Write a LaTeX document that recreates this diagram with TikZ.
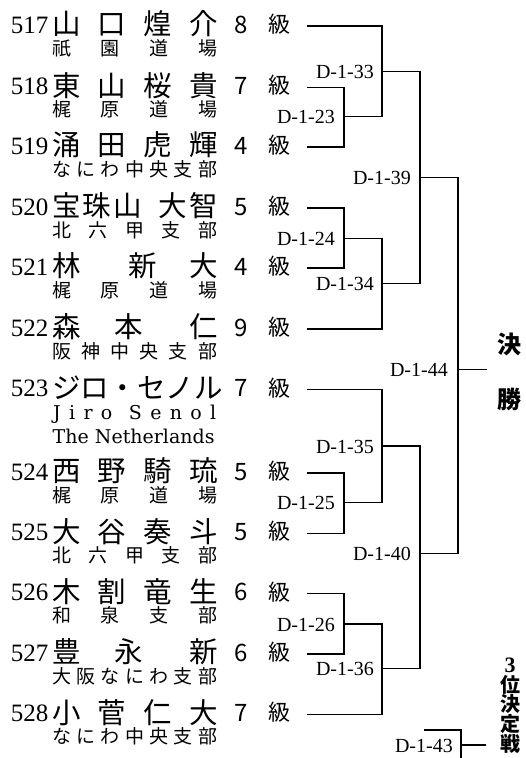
\documentclass[tikz,border=0pt]{standalone}
\usepackage{fontspec}
\setmainfont{Liberation Serif}
\newfontfamily\jp{Noto Sans CJK JP}
\newfontfamily\dvs{DejaVu Serif}
\newfontfamily\lsb{Liberation Serif}[BoldFont={Liberation Serif Bold}]
\usetikzlibrary{calc}
\tikzset{
  numf/.style={font=\fontsize{25}{25}\selectfont, anchor=base east, inner sep=0},
  namef/.style={font=\jp\fontsize{28.5}{28.5}\selectfont, anchor=base west, inner sep=0},
  subf/.style={font=\jp\fontsize{19}{19}\selectfont, anchor=base west, inner sep=0},
  grdf/.style={font=\jp\fontsize{24}{24}\selectfont, anchor=base, inner sep=0},
  kyuf/.style={font=\jp\fontsize{22}{22}\selectfont, anchor=base, inner sep=0},
  latf/.style={font=\dvs\fontsize{19}{19}\selectfont, anchor=base west, inner sep=0},
  lab/.style={font=\fontsize{20}{20}\selectfont, anchor=base east, inner sep=0},
  finf/.style={font=\jp\bfseries\fontsize{24}{24}\selectfont, anchor=base, inner sep=0},
  thf/.style={font=\jp\bfseries\fontsize{20}{19.6}\selectfont, align=center, anchor=north, inner sep=0},
  br/.style={line width=1.1pt, black},
}
\newcommand\entry[5]{%
  \coordinate (s#1) at (306.7,#2);
  \node[numf] (num#1) at (48.5,#2+7) {#3};
  \node[namef] (nm#1) at (51.8,#2+8.8) {\makebox[166.4pt][s]{#5}};
  \node[grdf] (gd#1) at (241,#2+7) {#4};
  \node[kyuf] (ky#1) at (279,#2+6.4) {級};
}
\newcommand\subl[3]{%
  \node[subf] (sb#1) at (52,#2+29.2) {\makebox[165pt][s]{#3}};
}
\begin{document}
\begin{tikzpicture}[x=1pt,y=-1pt]
\fill[white] (0,0) rectangle (525,758);
\useasboundingbox (0,0) rectangle (525,758);

\entry{1}{26}{517}{8}{山\hfill 口\hfill 煌\hfill 介}
\subl{1}{26}{祇\hfill 園\hfill 道\hfill 場}
\entry{2}{87.3}{518}{7}{東\hfill 山\hfill 桜\hfill 貴}
\subl{2}{87.3}{梶\hfill 原\hfill 道\hfill 場}
\entry{3}{147}{519}{4}{涌\hfill 田\hfill 虎\hfill 輝}
\subl{3}{147}{な\hfill に\hfill わ\hfill 中\hfill 央\hfill 支\hfill 部}
\entry{4}{208}{520}{5}{宝\hspace{2.5pt}珠\hspace{2.5pt}山\hfill 大\hspace{2.5pt}智}
\subl{4}{208}{北\hfill 六\hfill 甲\hfill 支\hfill 部}
\entry{5}{268}{521}{4}{林\hfill 新\hspace{32.5pt}大}
\subl{5}{268}{梶\hfill 原\hfill 道\hfill 場}
\entry{6}{329}{522}{9}{森\hfill 本\hspace{46.5pt}仁}
\subl{6}{329}{阪\hfill 神\hfill 中\hfill 央\hfill 支\hfill 部}
\entry{7}{389.7}{523}{7}{ジ\hfill ロ\hfill ・\hfill セ\hfill ノ\hfill ル}
\node[latf] (lat7a) at (53,419.5) {\makebox[163pt][s]{J\hfill i\hfill r\hfill o\hfill\hfill S\hfill e\hfill n\hfill o\hfill l}};
\node[latf] (lat7b) at (52.5,443) {The Netherlands};
\entry{8}{473}{524}{5}{西\hfill 野\hfill 騎\hfill 琉}
\subl{8}{473}{梶\hfill 原\hfill 道\hfill 場}
\entry{9}{533.3}{525}{5}{大\hfill 谷\hfill 奏\hfill 斗}
\subl{9}{533.3}{北\hfill 六\hfill 甲\hfill 支\hfill 部}
\entry{10}{593.7}{526}{6}{木\hfill 割\hfill 竜\hfill 生}
\subl{10}{593.7}{和\hfill 泉\hfill 支\hfill 部}
\entry{11}{654}{527}{6}{豊\hfill 永\hspace{46.5pt}新}
\subl{11}{654}{大\hfill 阪\hfill な\hfill に\hfill わ\hfill 支\hfill 部}
\entry{12}{714.3}{528}{7}{小\hfill 菅\hfill 仁\hfill 大}
\subl{12}{714.3}{な\hfill に\hfill わ\hfill 中\hfill 央\hfill 支\hfill 部}

% match points
\coordinate (m23) at (344,116.7);
\coordinate (m33) at (382,71.3);
\coordinate (m24) at (344,238.3);
\coordinate (m34) at (382,283.7);
\coordinate (m39) at (420,177.7);
\coordinate (m25) at (344,502.7);
\coordinate (m35) at (382,446);
\coordinate (m26) at (344,624);
\coordinate (m36) at (382,668.7);
\coordinate (m40) at (420,553.7);
\coordinate (m44) at (458,369.3);
\coordinate (f44) at (486.7,369.3);
\coordinate (a43) at (424,730);
\coordinate (b43) at (461,758);
\coordinate (m43) at (461,745);
\coordinate (f43) at (486,745);

\draw[br] (s2) -| (m23) |- (s3);
\draw[br] (s1) -| (m33) |- (m23);
\draw[br] (s4) -| (m24) |- (s5);
\draw[br] (m24) -| (m34) |- (s6);
\draw[br] (m33) -| (m39) |- (m34);
\draw[br] (s8) -| (m25) |- (s9);
\draw[br] (s7) -| (m35) |- (m25);
\draw[br] (s10) -| (m26) |- (s11);
\draw[br] (m26) -| (m36) |- (s12);
\draw[br] (m35) -| (m40) |- (m36);
\draw[br] (m39) -| (m44) |- (m40);
\draw[br] (m44) -- (f44);
\draw[br] (a43) -| (b43);
\draw[br] (m43) -- (f43);

% labels
\node[lab] (l33) at ($(m33)+(-8,7)$) {D-1-33};
\node[lab] (l23) at ($(m23)+(-9,7)$) {D-1-23};
\node[lab] (l39) at ($(m39)+(-9,7)$) {D-1-39};
\node[lab] (l24) at ($(m24)+(-9,7)$) {D-1-24};
\node[lab] (l34) at ($(m34)+(-8,7)$) {D-1-34};
\node[lab] (l44) at ($(m44)+(-10,7)$) {D-1-44};
\node[lab] (l35) at ($(m35)+(-8,7)$) {D-1-35};
\node[lab] (l25) at ($(m25)+(-9,7)$) {D-1-25};
\node[lab] (l40) at ($(m40)+(-9,7)$) {D-1-40};
\node[lab] (l26) at ($(m26)+(-9,7)$) {D-1-26};
\node[lab] (l36) at ($(m36)+(-8,7)$) {D-1-36};
\node[lab] (l43) at ($(m43)+(-8,7)$) {D-1-43};

% finals
\node[finf] (fin1) at (509,353) {決};
\node[finf] (fin2) at (509,408) {勝};
\node[thf] (th) at (510,658) {{\lsb\bfseries\fontsize{22}{19.6}\selectfont 3}\\位\\決\\定\\戦};
\end{tikzpicture}
\end{document}
